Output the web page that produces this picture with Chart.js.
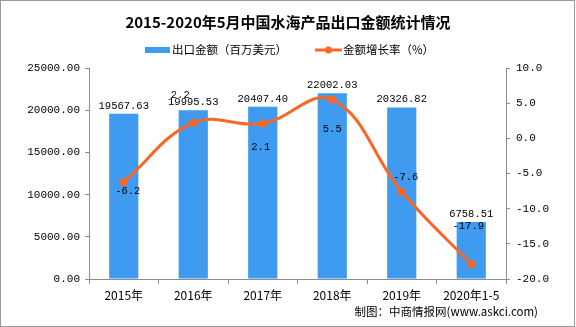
<!DOCTYPE html>
<html>
<head>
<meta charset="utf-8">
<script src="https://cdn.jsdelivr.net/npm/chart.js@4/dist/chart.umd.min.js"></script>
<style>
  html, body { margin: 0; padding: 0; background: #fff; }
  #wrap { width: 576px; height: 327px; position: relative; }
  canvas { display: block; }
</style>
</head>
<body>
<div id="wrap"><canvas id="c" width="576" height="327"></canvas></div>
<script>
// Categories and series
const categories = ['2015年', '2016年', '2017年', '2018年', '2019年', '2020年1-5'];
const exportValue = [19567.63, 19995.53, 20407.40, 22002.03, 20326.82, 6758.51]; // 百万美元
const growthRate = [-6.2, 2.2, 2.1, 5.5, -7.6, -17.9]; // %
const leftTicks = [0, 5000, 10000, 15000, 20000, 25000];
const rightTicks = [-20, -15, -10, -5, 0, 5, 10];

const BAR_COLOR = '#3f9bef';
const LINE_COLOR = '#fa6623';
const AXIS_COLOR = '#8c8c8c';
const CJK = '"Noto Sans CJK SC", "Noto Sans", sans-serif';
const MONO = '"Liberation Mono", "DejaVu Sans Mono", monospace';

// Title, legend, source note, frame and value labels
const decor = {
  id: 'decor',
  afterDraw(chart, args, opts) {
    const ctx = chart.ctx;
    ctx.save();
    // frame
    ctx.strokeStyle = '#9a9a9a';
    ctx.lineWidth = 1;
    ctx.strokeRect(0.5, 0.5, chart.width - 2, chart.height - 1);

    // title
    ctx.fillStyle = '#000';
    ctx.textAlign = 'center';
    ctx.textBaseline = 'middle';
    ctx.font = 'bold 15px ' + CJK;
    ctx.fillText('2015-2020年5月中国水海产品出口金额统计情况', 288, 22);

    // legend
    ctx.font = '11.5px ' + CJK;
    ctx.textAlign = 'left';
    ctx.fillStyle = BAR_COLOR;
    ctx.fillRect(145, 47, 25, 6);
    ctx.fillStyle = '#000';
    ctx.fillText('出口金额（百万美元）', 172, 50);
    ctx.strokeStyle = LINE_COLOR;
    ctx.lineWidth = 3;
    ctx.beginPath(); ctx.moveTo(315, 50); ctx.lineTo(342, 50); ctx.stroke();
    ctx.fillStyle = LINE_COLOR;
    ctx.beginPath(); ctx.arc(328.5, 50, 3.5, 0, Math.PI * 2); ctx.fill();
    ctx.fillStyle = '#000';
    ctx.fillText('金额增长率（%）', 343, 50);

    // source note
    ctx.textAlign = 'right';
    ctx.font = '11.5px ' + CJK;
    ctx.fillText('制图：中商情报网(www.askci.com)', 538, 312);

    // bar value labels
    ctx.textAlign = 'center';
    ctx.textBaseline = 'alphabetic';
    ctx.font = '10.5px ' + MONO;
    const barMeta = chart.getDatasetMeta(0);
    barMeta.data.forEach((el, i) => {
      ctx.fillText(exportValue[i].toFixed(2), el.x, el.y - 5);
    });

    // growth labels
    ctx.textBaseline = 'middle';
    const lineMeta = chart.getDatasetMeta(1);
    lineMeta.data.forEach((el, i) => {
      const o = opts.growthOffsets[i];
      ctx.fillText(growthRate[i].toFixed(1), el.x + o[0], el.y + o[1]);
    });
    ctx.restore();
  }
};

new Chart(document.getElementById('c'), {
  data: {
    labels: categories,
    datasets: [
      {
        type: 'bar',
        label: '出口金额（百万美元）',
        data: exportValue,
        yAxisID: 'yL',
        backgroundColor: BAR_COLOR,
        barPercentage: 0.84,
        categoryPercentage: 0.5,
        order: 1
      },
      {
        type: 'line',
        label: '金额增长率（%）',
        data: growthRate,
        yAxisID: 'yR',
        borderColor: LINE_COLOR,
        backgroundColor: LINE_COLOR,
        borderWidth: 3,
        tension: 0.4,
        pointRadius: 4,
        pointHoverRadius: 4,
        pointBackgroundColor: LINE_COLOR,
        pointBorderWidth: 0,
        order: 0
      }
    ]
  },
  options: {
    responsive: false,
    animation: false,
    layout: { padding: { top: 68, left: 0, right: 0, bottom: 0 } },
    plugins: {
      legend: { display: false },
      title: { display: false },
      tooltip: { enabled: false },
      decor: { growthOffsets: [[4, 9], [-13, -28], [-2, 24], [0, 30], [4, -15], [-3, -38]] }
    },
    scales: {
      x: {
        offset: true,
        grid: { display: true, drawOnChartArea: false, offset: true, color: AXIS_COLOR, tickLength: 5 },
        border: { color: AXIS_COLOR },
        ticks: { color: '#000', font: { family: CJK, size: 12 }, padding: 4, maxRotation: 0 },
        afterFit(s) { s.height = 48; }
      },
      yL: {
        position: 'left',
        min: 0, max: 25000,
        afterBuildTicks(s) { s.ticks = leftTicks.map(v => ({ value: v })); },
        grid: { drawOnChartArea: false, color: AXIS_COLOR, tickLength: 4 },
        border: { color: AXIS_COLOR },
        ticks: { color: '#000', font: { family: MONO, size: 11 }, padding: 5, callback: v => v.toFixed(2) },
        afterFit(s) { s.width = 89; }
      },
      yR: {
        position: 'right',
        min: -20, max: 10,
        afterBuildTicks(s) { s.ticks = rightTicks.map(v => ({ value: v })); },
        grid: { drawOnChartArea: false, color: AXIS_COLOR, tickLength: 4 },
        border: { color: AXIS_COLOR },
        ticks: { color: '#000', font: { family: MONO, size: 11 }, padding: 6, callback: v => v.toFixed(1) },
        afterFit(s) { s.width = 70; }
      }
    }
  },
  plugins: [decor]
});
</script>
</body>
</html>
